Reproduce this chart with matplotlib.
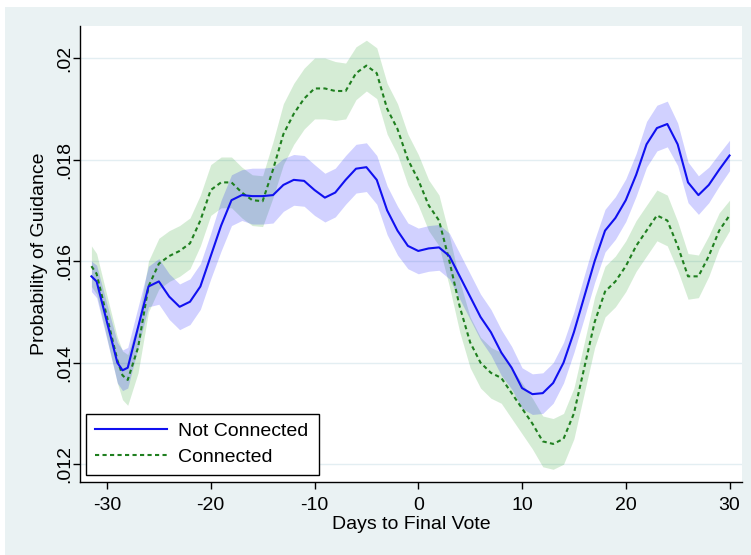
import matplotlib.pyplot as plt
from matplotlib.patches import Rectangle

plt.rcParams['font.family'] = ['Liberation Sans', 'DejaVu Sans']

days = [-31.5, -31, -30, -29, -28.5, -28, -27, -26, -25, -24, -23, -22, -21,
        -20, -19, -18, -17, -16, -15, -14, -13, -12, -11, -10, -9, -8, -7,
        -6, -5, -4, -3, -2, -1, 0, 1, 2, 3, 4, 5, 6, 7, 8, 9, 10, 11, 12,
        13, 14, 15, 16, 17, 18, 19, 20, 21, 22, 23, 24, 25, 26, 27, 28, 29,
        30]

not_conn = [.0157, .0156, .0148, .0140, .01385, .0139, .0147, .0155, .0156,
            .0153, .0151, .0152, .0155, .0161, .0167, .0172, .0173, .01728,
            .01728, .0173, .0175, .0176, .01758, .0174, .01725, .01735,
            .0176, .01782, .01785, .0176, .0170, .0166, .0163, .0162,
            .01625, .01627, .0161, .0157, .0153, .0149, .0146, .0142, .0139,
            .0135, .01338, .0134, .0136, .0140, .0146, .0153, .0160, .0166,
            .01685, .0172, .0177, .0183, .01862, .0187, .0183, .01755,
            .0173, .0175, .0178, .01808]
not_conn_ci = [.0003, .00032, .00035, .0004, .0004, .0004, .0004, .0004,
               .00045, .00045, .00045, .00045, .00045, .00045, .0005, .0005,
               .0005, .00055, .00055, .00055, .00052, .0005, .0005, .0005,
               .00048, .00048, .00048, .00048, .00048, .00048, .00048,
               .00048, .00045, .00045, .00045, .00045, .00045, .00045,
               .00045, .00045, .00045, .00045, .00042, .0004, .0004, .0004,
               .0004, .0004, .0004, .00042, .00042, .00042, .00042, .00042,
               .00042, .00045, .00045, .00045, .00042, .0004, .00038, .00035,
               .00032, .0003]

conn = [.0159, .01575, .0149, .01405, .01375, .01366, .0143, .0155, .01595,
        .0161, .0162, .01635, .0168, .0174, .01755, .01755, .01735, .0172,
        .01718, .0178, .0185, .0189, .0192, .0194, .0194, .01935, .01935,
        .0197, .01985, .0197, .0190, .0186, .0180, .0176, .0171, .0168,
        .0160, .0151, .0144, .0140, .0138, .0137, .0134, .0131, .0128,
        .01245, .0124, .0125, .0130, .0139, .0148, .0154, .0156, .0159,
        .0163, .0166, .0169, .0168, .0163, .0157, .0157, .0161, .0166,
        .0169]
conn_ci = [.0004, .0004, .00042, .00045, .00048, .0005, .0005, .0005, .0005,
           .0005, .0005, .0005, .0005, .0005, .0005, .0005, .0005, .0005,
           .0005, .00055, .0006, .0006, .0006, .0006, .0006, .00058, .00055,
           .00052, .0005, .0005, .0005, .0005, .0005, .0005, .0005, .0005,
           .0005, .0005, .0005, .0005, .0005, .0005, .0005, .0005, .0005,
           .0005, .0005, .0005, .0005, .0005, .0005, .0005, .0005, .0005,
           .0005, .0005, .0005, .0005, .00048, .00045, .00042, .0004,
           .00035, .0003]

xticks = [-30, -20, -10, 0, 10, 20, 30]
yticks = [.012, .014, .016, .018, .02]
ytick_labels = ['.012', '.014', '.016', '.018', '.02']

fig = plt.figure(figsize=(7.51, 5.55), dpi=100, facecolor='white')
fig.patches.append(Rectangle((5 / 751, 0), 1, 548 / 555, transform=fig.transFigure,
                             facecolor='#eaf2f3', edgecolor='none', zorder=-10))
ax = fig.add_axes([80 / 751, 1 - 482 / 555, 662 / 751, 456 / 555])
ax.set_zorder(1)
ax.set_facecolor('white')

# confidence bands
lo = [v - c for v, c in zip(conn, conn_ci)]
hi = [v + c for v, c in zip(conn, conn_ci)]
ax.fill_between(days, lo, hi, color=(0.1, 0.6, 0.1), alpha=0.18, lw=0, zorder=1)
lo = [v - c for v, c in zip(not_conn, not_conn_ci)]
hi = [v + c for v, c in zip(not_conn, not_conn_ci)]
ax.fill_between(days, lo, hi, color=(0.0, 0.0, 1.0), alpha=0.18, lw=0, zorder=2)

ax.plot(days, not_conn, color='#1010f0', lw=1.5, zorder=4, label='Not Connected')
ax.plot(days, conn, color='#1f7f1f', lw=1.5, ls=(0, (2, 1.6)), zorder=3,
        label='Connected')

ax.set_xlim(-32.6, 31.2)
ax.set_ylim(0.01165, 0.02063)
ax.set_xticks(xticks)
ax.set_xticklabels([str(t) for t in xticks])
ax.set_yticks(yticks)
ax.set_yticklabels(ytick_labels, rotation=90, va='center')
ax.tick_params(labelsize=14, length=5, width=1, color='black', direction='out')
ax.tick_params(axis='x', pad=6)
ax.tick_params(axis='y', pad=0)
ax.grid(axis='y', color='#e3eef2', lw=1)
ax.set_axisbelow(True)
for s in ['top', 'right']:
    ax.spines[s].set_visible(False)
for s in ['left', 'bottom']:
    ax.spines[s].set_color('black')
    ax.spines[s].set_linewidth(1)

ax.set_xlabel('Days to Final Vote', fontsize=14, labelpad=1)
ax.set_ylabel('Probability of Guidance', fontsize=14, labelpad=6)

leg = ax.legend(loc='lower left', bbox_to_anchor=(0.009, 0.0154, 0.352, 0.136),
                mode='expand', borderaxespad=0, fancybox=False, framealpha=1,
                edgecolor='black', fontsize=14, handlelength=3.7,
                handletextpad=0.6, labelspacing=0.45, borderpad=0.45)
leg.get_frame().set_linewidth(1)

fig.savefig('out.png', dpi=100, facecolor=fig.get_facecolor())
